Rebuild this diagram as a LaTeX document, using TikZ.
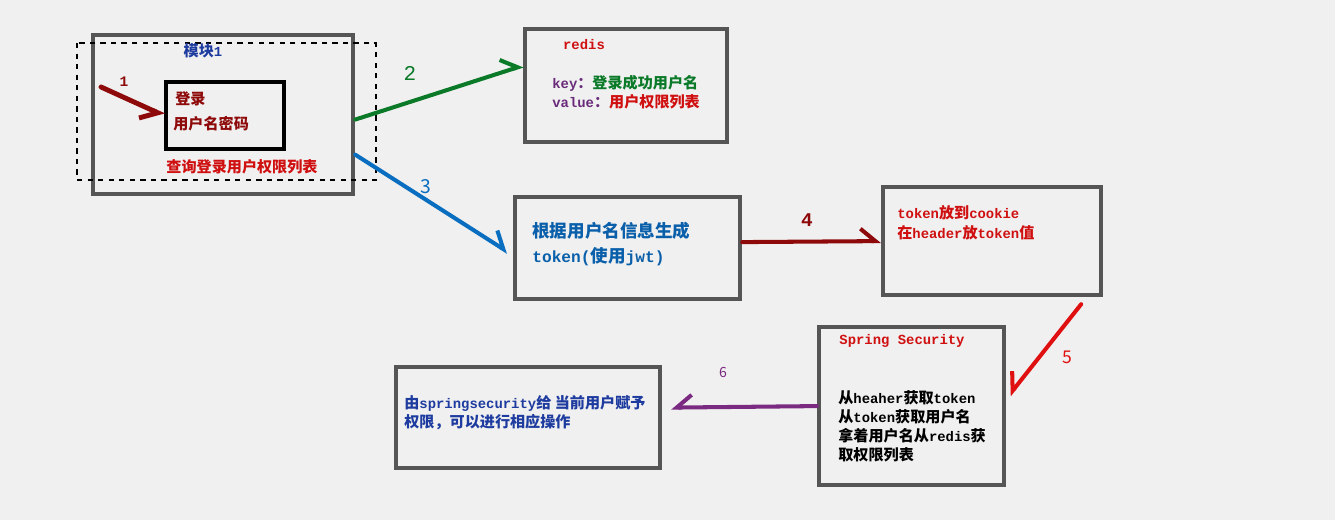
\documentclass[tikz,border=0pt]{standalone}
\usepackage{fontspec}
\setmainfont{Noto Sans CJK SC}
\newfontfamily\lat{Liberation Mono}[Scale=0.92]
\usetikzlibrary{arrows.meta,calc}

\definecolor{bggray}{HTML}{F0F0F0}
\definecolor{boxgray}{HTML}{555555}
\definecolor{darkred}{HTML}{8E0A0A}
\definecolor{arrowgreen}{HTML}{0A7A28}
\definecolor{arrowblue}{HTML}{0A6EC0}
\definecolor{brightred}{HTML}{E01010}
\definecolor{textred}{HTML}{D01010}
\definecolor{arrowpurple}{HTML}{7A2A80}
\definecolor{navy}{HTML}{1E3CA0}
\definecolor{keypurple}{HTML}{6A2C7A}
\definecolor{textblue}{HTML}{0A5FAA}

\tikzset{
  box/.style={draw=boxgray, line width=2.4pt, inner sep=0pt, anchor=north west},
  txt/.style={inner sep=0pt, anchor=west, font=\fontsize{8.6}{10.8}\selectfont\bfseries},
  num/.style={inner sep=0pt},
  barbL/.style={line width=2.3pt, line cap=round, -{Straight Barb[harpoon,length=0.3cm,width=0.5cm]}},
  barbR/.style={line width=2.3pt, line cap=round, -{Straight Barb[harpoon,swap,length=0.3cm,width=0.5cm]}},
}

\begin{document}
\begin{tikzpicture}[x=0.02cm, y=-0.02cm]
  \fill[bggray] (0,0) rectangle (1335,520);
  \useasboundingbox (0,0) rectangle (1335,520);

  % module 1
  \node[box, minimum width=5.2cm, minimum height=3.18cm] (mod) at (91,33) {};
  \draw[dashed, line width=0.6pt] (77,43) rectangle (376,180);
  \node[box, draw=black, minimum width=2.36cm, minimum height=1.34cm] (login) at (164,80) {};
  \node[txt, text=navy, anchor=center] (modtitle) at (203,51) {模块{\lat 1}};
  \node[txt, text=darkred] (logina) at (175,99) {登录};
  \node[txt, text=darkred] (loginb) at (173,124) {用户名密码};
  \node[txt, text=textred, anchor=center] (query) at (242,167) {查询登录用户权限列表};

  % redis
  \node[box, minimum width=4.04cm, minimum height=2.26cm] (redis) at (523,27) {};
  \node[txt, text=textred, anchor=center] (redistitle) at (584,45) {\lat redis};
  \node[txt] (rediskey) at (552,83) {\textcolor{keypurple}{{\lat key}：}\textcolor{arrowgreen}{登录成功用户名}};
  \node[txt] (redisval) at (552,102) {\textcolor{keypurple}{{\lat value}：}\textcolor{textred}{用户权限列表}};

  % jwt
  \node[box, minimum width=4.5cm, minimum height=2.04cm] (jwt) at (513,195) {};
  \node[txt, text=textblue, font=\fontsize{10}{12}\selectfont\bfseries] (jwta) at (532,231) {根据用户名信息生成};
  \node[txt, text=textblue, font=\fontsize{10}{12}\selectfont\bfseries] (jwtb) at (532,257) {{\lat token(}使用{\lat jwt)}};

  % cookie
  \node[box, minimum width=4.36cm, minimum height=2.16cm] (cookie) at (881,185) {};
  \node[txt, text=textred] (cookiea) at (897,213) {{\lat token}放到{\lat cookie}};
  \node[txt, text=textred] (cookieb) at (897,233) {在{\lat header}放{\lat token}值};

  % spring security
  \node[box, minimum width=3.7cm, minimum height=3.16cm] (sec) at (817,325) {};
  \node[txt, text=textred, anchor=center] (sectitle) at (902,341) {\lat Spring Security};
  \node[txt, align=left] (secbody) at (838,426) {从{\lat heaher}获取{\lat token}\\从{\lat token}获取用户名\\拿着用户名从{\lat redis}获\\取权限列表};

  % grant
  \node[box, minimum width=5.28cm, minimum height=2.02cm] (grant) at (394,365) {};
  \node[txt, text=navy, align=left] (granttext) at (404,413) {由{\lat springsecurity}给 当前用户赋予\\权限，可以进行相应操作};

  % arrows
  \coordinate (start1) at (101,87);
  \draw[barbR, darkred, line width=2.8pt] (start1) -- (login.west);
  \draw[barbL, arrowgreen] ($(mod.east)+(0,5)$) -- ($(redis.west)+(0,-20)$);
  \draw[barbL, arrowblue] ($(mod.east)+(0,40)$) -- ($(jwt.west)+(-5,4)$);
  \draw[barbL, darkred] ($(jwt.east)+(0,-6)$) -- (cookie.west);
  \draw[barbR, brightred] ($(cookie.south east)+(-22,7)$) -- ($(sec.east)+(3,-11)$);
  \draw[barbR, arrowpurple] (sec.west) -- ($(grant.east)+(9,-10)$);

  \node[num, text=darkred, font=\fontsize{9}{9}\selectfont\bfseries\lat] (n1) at (124,82) {1};
  \node[num, text=arrowgreen, font=\fontsize{13}{13}\selectfont\lat] (n2) at (410,73) {2};
  \node[num, text=arrowblue, font=\fontsize{11}{11}\selectfont] (n3) at (426,187) {3};
  \node[num, text=darkred, font=\fontsize{12}{12}\selectfont\bfseries\lat] (n4) at (807,220) {4};
  \node[num, text=brightred, font=\fontsize{10}{10}\selectfont] (n5) at (1067,357) {5};
  \node[num, text=arrowpurple, font=\fontsize{8}{8}\selectfont] (n6) at (723,372) {6};
\end{tikzpicture}
\end{document}
